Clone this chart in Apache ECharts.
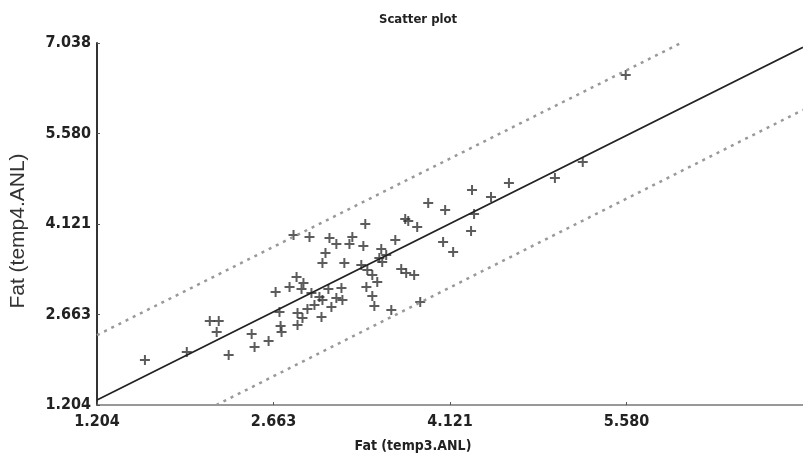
<!DOCTYPE html>
<html>
<head>
<meta charset="utf-8">
<script src="https://cdn.jsdelivr.net/npm/echarts@6/dist/echarts.min.js"></script>
<style>
html,body{margin:0;padding:0;background:#fff;}
#chart{width:803px;height:463px;}
</style>
</head>
<body>
<div id="chart"></div>
<script>
const titleText = 'Scatter plot';
const xName = 'Fat (temp3.ANL)';
const yName = 'Fat (temp4.ANL)';
const xTicks = [1.204, 2.663, 4.121, 5.580];
const yTicks = [1.204, 2.663, 4.121, 5.580, 7.038];
const axisMin = 1.204;
const axisMax = 7.038;

const xValues = [1.600,1.946,2.136,2.210,2.193,2.292,2.482,2.506,2.622,2.680,2.712,2.721,2.729,
  2.828,2.960,3.125,3.182,3.314,3.290,3.405,3.092,3.067,3.248,3.388,2.853,2.910,2.795,2.894,3.116,
  3.224,3.042,3.067,3.182,3.232,2.976,3.001,2.943,3.141,2.861,2.902,3.059,2.861,3.941,4.081,3.751,
  3.776,3.850,3.421,3.669,4.064,3.553,3.537,3.561,3.594,3.438,3.479,3.520,3.430,3.479,3.496,3.636,
  3.718,3.759,3.825,3.875,4.303,4.460,4.608,4.988,4.320,4.295,4.147,5.573,5.218];
const yValues = [1.930,2.058,2.558,2.558,2.381,2.010,2.349,2.139,2.236,3.026,2.703,2.478,2.381,
  3.945,3.913,3.896,3.800,3.913,3.800,3.767,3.655,3.493,3.493,3.461,3.268,3.171,3.106,3.074,3.074,
  3.090,2.945,2.897,2.929,2.897,3.010,2.816,2.752,2.784,2.687,2.607,2.623,2.494,4.461,4.348,4.203,
  4.170,4.074,4.122,3.864,3.832,3.719,3.574,3.509,3.622,3.380,3.300,3.187,3.106,2.961,2.800,2.736,
  3.397,3.332,3.300,2.865,4.670,4.557,4.783,4.864,4.283,4.009,3.671,6.524,5.122];

const fitX = [1.204, 7.038];
const fitY = [1.285, 6.97];
const upperX = [1.204, 6.03];
const upperY = [2.33, 7.038];
const lowerX = [2.19, 7.038];
const lowerY = [1.204, 5.96];

const narrow = "'Liberation Sans Narrow', 'DejaVu Sans Condensed', 'Arial Narrow', sans-serif";
const pairs = (xs, ys) => xs.map((x, i) => [x, ys[i]]);
const fmt = v => Number(v).toFixed(3);

const chart = echarts.init(document.getElementById('chart'), null, {renderer: 'canvas'});
chart.setOption({
  animation: false,
  backgroundColor: '#fff',
  title: {
    text: titleText, left: 374, top: 8,
    textStyle: {fontFamily: narrow, fontWeight: 'bold', fontSize: 13, color: '#222'}
  },
  grid: {left: 97, right: -2, top: 43, bottom: 58, containLabel: false},
  xAxis: {
    type: 'value', min: axisMin, max: axisMax,
    name: xName, nameLocation: 'middle', nameGap: 34,
    nameTextStyle: {fontFamily: narrow, fontWeight: 'bold', fontSize: 14, color: '#222', padding: [0, 74, 0, 0]},
    axisLine: {lineStyle: {color: '#777', width: 1.5}},
    axisTick: {show: true, inside: true, length: 3, customValues: xTicks, lineStyle: {color: '#555'}},
    axisLabel: {customValues: xTicks, formatter: fmt, margin: 9,
      fontFamily: narrow, fontWeight: 'bold', fontSize: 16, color: '#222'},
    splitLine: {show: false}
  },
  yAxis: {
    type: 'value', min: axisMin, max: axisMax,
    name: yName, nameLocation: 'middle', nameGap: 68, nameRotate: 90,
    nameTextStyle: {fontFamily: "'Liberation Sans', Arial, sans-serif", fontSize: 21, color: '#333', padding: [0, 14, 0, 0]},
    axisLine: {lineStyle: {color: '#333', width: 2}},
    axisTick: {show: true, inside: true, length: 3, customValues: yTicks, lineStyle: {color: '#555'}},
    axisLabel: {customValues: yTicks, formatter: fmt, margin: 6,
      fontFamily: narrow, fontWeight: 'bold', fontSize: 16, color: '#222'},
    splitLine: {show: false}
  },
  series: [
    {type: 'line', data: pairs(upperX, upperY), symbol: 'none', clip: true,
      lineStyle: {color: '#999', width: 2.5, type: [3, 5]}},
    {type: 'line', data: pairs(lowerX, lowerY), symbol: 'none', clip: true,
      lineStyle: {color: '#999', width: 2.5, type: [3, 5]}},
    {type: 'line', data: pairs(fitX, fitY), symbol: 'none', clip: true,
      lineStyle: {color: '#222', width: 1.8}},
    {type: 'scatter', data: pairs(xValues, yValues),
      symbol: 'path://M4,0h2v4h4v2h-4v4h-2v-4h-4v-2h4z', symbolSize: 10,
      itemStyle: {color: '#333'}}
  ]
});
</script>
</body>
</html>
